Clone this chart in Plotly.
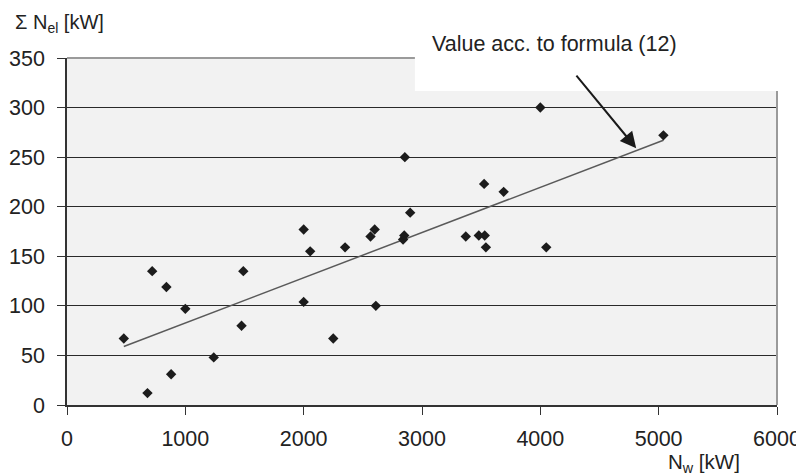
import plotly.graph_objects as go

# Measured points
nw_kw = [480, 680, 720, 840, 880, 1000, 1240, 1475, 1490, 2000, 2000, 2055,
         2250, 2350, 2565, 2600, 2610, 2840, 2850, 2855, 2900, 3370, 3480,
         3525, 3530, 3540, 3690, 4000, 4050, 5040]
nel_kw = [67, 12, 135, 119, 31, 97, 48, 80, 135, 104, 177, 155,
          67, 159, 170, 177, 100, 167, 171, 250, 194, 170, 171,
          223, 171, 159, 215, 300, 159, 272]

# Formula (12) line end points
line_x = [480, 5040]
line_y = [59, 267]

x_ticks = [0, 1000, 2000, 3000, 4000, 5000, 6000]
y_ticks = [0, 50, 100, 150, 200, 250, 300, 350]

FONT = "Liberation Sans, Arial, sans-serif"
TXT = "#222222"
FS = 21.5

fig = go.Figure()
fig.add_trace(go.Scatter(x=line_x, y=line_y, mode="lines",
                         line=dict(color="#5a5a5a", width=1.5),
                         showlegend=False, hoverinfo="skip"))
fig.add_trace(go.Scatter(x=nw_kw, y=nel_kw, mode="markers",
                         marker=dict(symbol="diamond", size=8, color="#1c1c1c"),
                         showlegend=False))

fig.update_layout(
    width=796, height=467,
    margin=dict(l=59, r=27, t=50, b=70),
    paper_bgcolor="white",
    plot_bgcolor="#f2f2f2",
    font=dict(family=FONT, size=FS, color=TXT),
    xaxis=dict(range=[0, 6000], tickvals=x_ticks, showgrid=False, zeroline=False,
               automargin=False,
               showline=True, linecolor="#333333", linewidth=1.5,
               ticks="outside", ticklen=8, tickcolor="#333333", tickwidth=1,
               ticklabelstandoff=5,
               tickfont=dict(family=FONT, size=FS, color=TXT)),
    yaxis=dict(range=[0, 350], tickvals=y_ticks, showgrid=True,
               automargin=False,
               gridcolor="#2a2a2a", gridwidth=1.2, zeroline=False,
               showline=True, linecolor="#333333", linewidth=1.5,
               ticks="outside", ticklen=8, tickcolor="#333333", tickwidth=1,
               ticklabelstandoff=8,
               tickfont=dict(family=FONT, size=FS, color=TXT)),
    shapes=[
        dict(type="line", xref="paper", yref="paper", x0=0, x1=1, y0=1, y1=1,
             line=dict(color="#9a9a9a", width=2), layer="above"),
        dict(type="line", xref="paper", yref="paper", x0=1, x1=1, y0=0, y1=1,
             line=dict(color="#9a9a9a", width=2), layer="above"),
        dict(type="rect", xref="paper", yref="paper", x0=0.490, x1=1.05,
             y0=0.905, y1=1.2, fillcolor="white", line=dict(width=0),
             layer="above"),
    ],
    annotations=[
        dict(text="Σ N<sub>el</sub> [kW]", xref="paper", yref="paper",
             x=-0.076, y=1.10, xanchor="left", yanchor="middle",
             showarrow=False, font=dict(family=FONT, size=20, color=TXT)),
        dict(text="N<sub>w</sub> [kW]", xref="paper", yref="paper",
             x=0.951, y=-0.166, xanchor="right", yanchor="middle",
             showarrow=False, font=dict(family=FONT, size=20.5, color=TXT)),
        dict(text="Value acc. to formula (12)", xref="paper", yref="paper",
             x=0.687, y=1.04, xanchor="center", yanchor="middle",
             showarrow=False, font=dict(family=FONT, size=FS, color=TXT)),
        dict(text="", x=4810, y=259, xref="x", yref="y",
             showarrow=True, ax=-61, ay=-74, arrowhead=2, arrowsize=1.6,
             arrowwidth=2, arrowcolor="#1a1a1a", standoff=0),
    ],
)

fig.write_html("out.html")
